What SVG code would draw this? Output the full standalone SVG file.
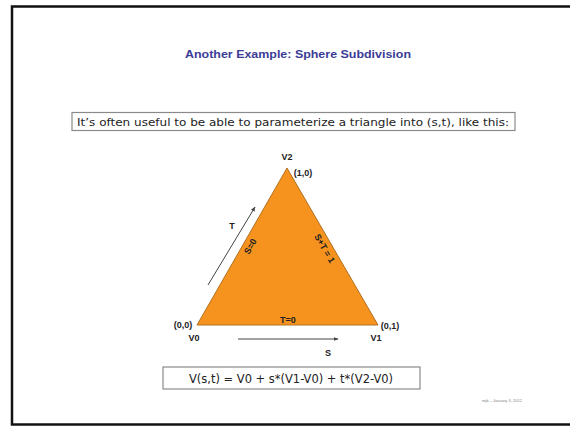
<svg xmlns="http://www.w3.org/2000/svg" width="570" height="426" viewBox="0 0 570 426">
<defs>
<style>
.lbl{font-family:"Liberation Sans",Arial,sans-serif;font-weight:bold;font-size:9px;fill:#222;text-anchor:middle}
.box{fill:#fff;stroke:#8a8a8a;stroke-width:1.2}
.boxt{font-family:"DejaVu Sans","Liberation Sans",sans-serif;fill:#222;text-anchor:middle}
.arr{stroke:#444;stroke-width:1;fill:none;marker-end:url(#ah)}
</style>
<marker id="ah" viewBox="0 0 10 10" refX="9" refY="5" markerWidth="5" markerHeight="5" orient="auto">
<path d="M0,1 L10,5 L0,9 z" fill="#444"/>
</marker>
</defs>
<rect x="0" y="0" width="570" height="426" fill="#fff"/>
<rect id="frame" x="12" y="6.5" width="600" height="418" fill="none" stroke="#111" stroke-width="2.5"/>
<text id="title" x="298" y="58" font-family="'Liberation Sans',Arial,sans-serif" font-weight="bold" font-size="11.5" fill="#3c3c96" text-anchor="middle" textLength="226" lengthAdjust="spacingAndGlyphs">Another Example: Sphere Subdivision</text>
<g id="intro">
<rect class="box" x="72" y="112.5" width="443" height="18"/>
<text class="boxt" x="293" y="125.5" font-size="10.5" textLength="432" lengthAdjust="spacingAndGlyphs">It’s often useful to be able to parameterize a triangle into (s,t), like this:</text>
</g>
<g id="triangle">
<polygon points="197,325 378,325 287,168" fill="#f5931e" stroke="#b07020" stroke-width="1"/>
<text class="lbl" x="288" y="323" font-size="10">T=0</text>
<text class="lbl" transform="translate(253,248) rotate(-60)" font-size="10">S=0</text>
<text class="lbl" transform="translate(322,250) rotate(60)" font-size="10">S+T = 1</text>
</g>
<g id="v2"><text class="lbl" x="287" y="159.5">V2</text><text class="lbl" x="303" y="176" font-weight="normal" font-size="8">(1,0)</text></g>
<g id="v0"><text class="lbl" x="183" y="327.5" font-size="8">(0,0)</text><text class="lbl" x="194" y="341">V0</text></g>
<g id="v1"><text class="lbl" x="390" y="328.5" font-size="8">(0,1)</text><text class="lbl" x="376" y="341">V1</text></g>
<g id="connectors">
<line class="arr" x1="208" y1="285" x2="255" y2="207"/>
<line class="arr" x1="238" y1="339" x2="338" y2="339"/>
</g>
<text id="tlabel" class="lbl" x="232" y="229">T</text>
<text id="slabel" class="lbl" x="328" y="356">S</text>
<g id="formula">
<rect class="box" x="163" y="367" width="257" height="22"/>
<text class="boxt" x="291" y="383" font-size="12.5" textLength="204" lengthAdjust="spacingAndGlyphs">V(s,t) = V0 + s*(V1-V0) + t*(V2-V0)</text>
</g>
<text id="footer" x="502" y="401.5" font-family="'Liberation Sans',Arial,sans-serif" font-size="4" fill="#888" text-anchor="middle" textLength="40" lengthAdjust="spacingAndGlyphs">mjb – January 3, 2012</text>
</svg>
